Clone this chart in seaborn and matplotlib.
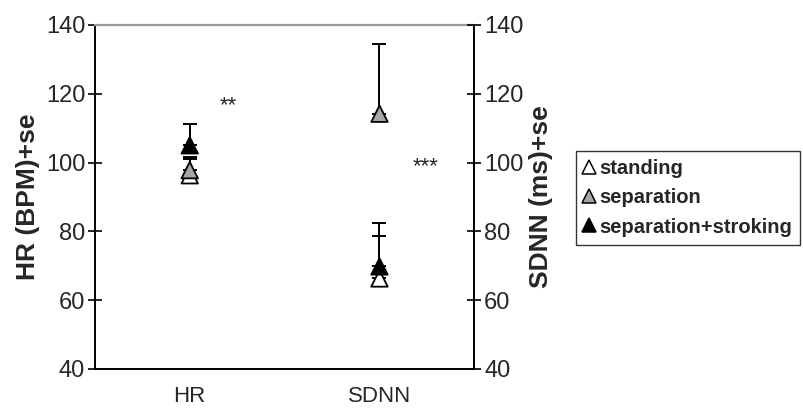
"""HR / SDNN 三种条件下的均值 + se 图。"""

import matplotlib
matplotlib.use("Agg")
import matplotlib.pyplot as plt
import numpy as np
import pandas as pd
import seaborn as sns

# 数据
MEASURES = ["HR", "SDNN"]
CONDITIONS = ["standing", "separation", "separation+stroking"]
HR_MEAN = [96.3, 97.8, 105.0]
HR_SE = [4.8, 3.7, 6.2]
SDNN_MEAN = [66.3, 114.2, 69.8]
SDNN_SE = [16.2, 20.4, 8.8]
Y_TICKS = [40, 60, 80, 100, 120, 140]
STARS = ["**", "***"]

COND_COLORS = {"standing": "white", "separation": "#a6a6a6", "separation+stroking": "black"}

sns.set_style("white")
plt.rcParams["font.family"] = ["Liberation Sans", "DejaVu Sans"]

df = pd.DataFrame({
    "measure": np.repeat(MEASURES, len(CONDITIONS)),
    "condition": CONDITIONS * len(MEASURES),
    "mean": HR_MEAN + SDNN_MEAN,
    "se": HR_SE + SDNN_SE,
})
df["xpos"] = df["measure"].map({m: i + 0.5 for i, m in enumerate(MEASURES)})

fig = plt.figure(figsize=(8.04, 4.09), dpi=100)
ax = fig.add_axes([0.118, 0.098, 0.472, 0.841])

# 单侧误差线 (只向上)
for _, row in df.iterrows():
    ax.errorbar(row["xpos"], row["mean"], yerr=[[0], [row["se"]]], fmt="none",
                ecolor="black", elinewidth=1.4, capsize=5, capthick=1.4, zorder=2)

sns.scatterplot(data=df, x="xpos", y="mean", hue="condition", style="condition",
                markers={c: "^" for c in CONDITIONS}, palette=COND_COLORS,
                s=140, edgecolor="black", linewidth=1.3, ax=ax, zorder=3, legend=False)

# 星号标注
ax.text(0.705, 116.5, STARS[0], ha="center", va="center", fontsize=16)
ax.text(1.742, 98.8, STARS[1], ha="center", va="center", fontsize=16)

ax.set_xlim(0, 2)
ax.set_ylim(40, 140)
ax.set_xticks([0.5, 1.5])
ax.set_xticklabels(MEASURES, fontsize=16)
ax.set_xticks([1.0], minor=True)
ax.tick_params(axis="x", which="major", length=0, pad=12)
ax.tick_params(axis="x", which="minor", direction="inout", length=10, width=1.2, color="black")
ax.set_yticks(Y_TICKS)
ax.tick_params(axis="y", direction="inout", length=10, width=1.2, labelsize=17, pad=2, color="black")
ax.set_xlabel("")
ax.set_ylabel("HR (BPM)+se", fontsize=19, fontweight="bold", labelpad=4)

for side in ["left", "bottom", "right"]:
    ax.spines[side].set_color("black")
    ax.spines[side].set_linewidth(1.4)
ax.spines["top"].set_color("#9a9a9a")
ax.spines["top"].set_linewidth(1.6)

ax2 = ax.twinx()
ax2.set_ylim(40, 140)
ax2.set_yticks(Y_TICKS)
ax2.tick_params(axis="y", direction="inout", length=10, width=1.2, labelsize=17, pad=2, color="black")
ax2.set_ylabel("SDNN (ms)+se", fontsize=19, fontweight="bold", labelpad=4)
for sp in ax2.spines.values():
    sp.set_visible(False)

# 图例
handles = [plt.Line2D([], [], marker="^", linestyle="none", markersize=10,
                      markerfacecolor=COND_COLORS[c], markeredgecolor="black",
                      markeredgewidth=1.1, label=c) for c in CONDITIONS]
leg = fig.legend(handles=handles, loc="upper left", bbox_to_anchor=(0.716, 0.630),
                 frameon=True, fancybox=False, edgecolor="black", handlelength=0.55,
                 handletextpad=0.2, borderpad=0.4, labelspacing=0.5, borderaxespad=0,
                 prop={"weight": "bold", "size": 14.5})
leg.get_frame().set_linewidth(1.0)

fig.savefig("out.png", dpi=100)
